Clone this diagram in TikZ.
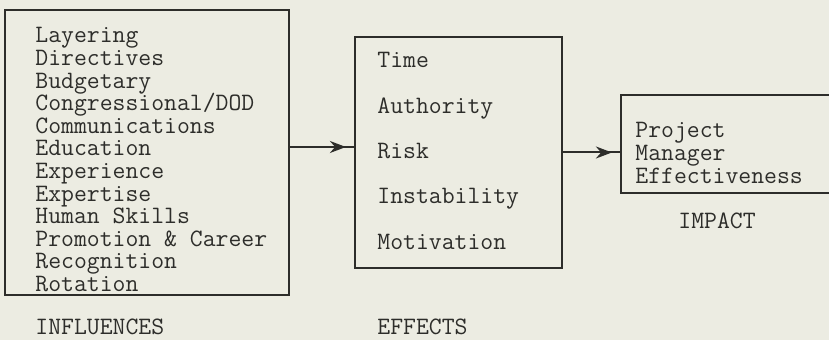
\documentclass[tikz,border=0pt]{standalone}
\usepackage{xcolor}
\usepackage{tikz}
\usetikzlibrary{arrows.meta,decorations.markings}

\definecolor{paper}{RGB}{236,236,226}
\definecolor{ink}{RGB}{45,45,42}
\newcommand{\typer}{\fontsize{12.5}{13.5}\selectfont\ttfamily}

\tikzset{
	box/.style={draw=ink, line width=1.1pt, inner sep=0pt},
	entry/.style={anchor=base west, inner sep=0pt, text=ink, font=\typer},
	conn/.style={draw=ink, line width=1pt,
		decoration={markings, mark=at position -4pt with {\arrow{Stealth[length=8pt,width=6pt]}}},
		postaction=decorate}
}

\begin{document}
\begin{tikzpicture}[x=0.5pt,y=-0.5pt]
		\clip (0,0) rectangle (829,340);
		\fill[paper] (0,0) rectangle (829,340);
		% boxes
		\node[box, minimum width=142pt, minimum height=142.5pt] (infl) at (147,152.5) {};
		\node[box, minimum width=103.5pt, minimum height=115.5pt] (eff) at (458.5,152.5) {};
		\node[box, minimum width=107pt, minimum height=49pt] (imp) at (728,144) {};
		% influences
		\node[entry] (layer) at (35,43) {Layering};
		\node[entry] (direct) at (35,65.6) {Directives};
		\node[entry] (budget) at (35,88.2) {Budgetary};
		\node[entry] (congr) at (35,110.8) {Congressional/DOD};
		\node[entry] (comm) at (35,133.4) {Communications};
		\node[entry] (educ) at (35,156) {Education};
		\node[entry] (exper) at (35,178.6) {Experience};
		\node[entry] (expert) at (35,201.2) {Expertise};
		\node[entry] (human) at (35,223.8) {Human Skills};
		\node[entry] (promo) at (35,246.4) {Promotion \& Career};
		\node[entry] (recog) at (35,269) {Recognition};
		\node[entry] (rot) at (35,291.6) {Rotation};
		% effects
		\node[entry] (time) at (377,68) {Time};
		\node[entry] (auth) at (377,113.3) {Authority};
		\node[entry] (risk) at (377,158.6) {Risk};
		\node[entry] (instab) at (377,203.9) {Instability};
		\node[entry] (motiv) at (377,249.2) {Motivation};
		% impact
		\node[entry] (proj) at (635,138) {Project};
		\node[entry] (mgr) at (635,160.6) {Manager};
		\node[entry] (effect) at (635,183.2) {Effectiveness};
		% captions
		\node[entry] (cinfl) at (35,335) {INFLUENCES};
		\node[entry] (ceff) at (377,335) {EFFECTS};
		\node[entry] (cimp) at (678,229) {IMPACT};
		% arrows
		\draw[conn] ([yshift=2.75pt]infl.east) -- ([yshift=2.75pt]eff.west);
		\draw[conn] (eff.east) -- (eff.east -| imp.west);
	\end{tikzpicture}
\end{document}
